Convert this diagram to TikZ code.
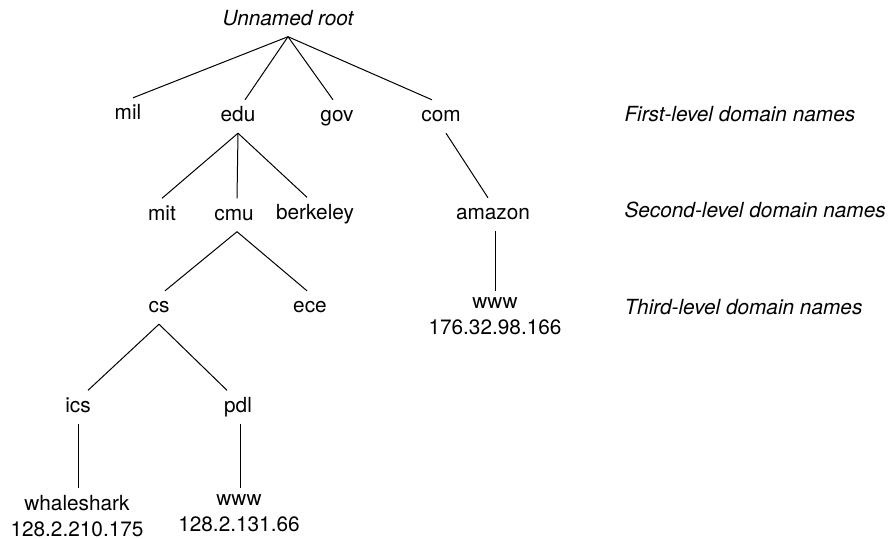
\documentclass[tikz,border=0pt]{standalone}
\usepackage{fontspec}
\setmainfont{TeX Gyre Heros}
\usepackage{tikz}

\begin{document}
\begin{tikzpicture}[x=0.5pt,y=-0.5pt,line width=0.5pt,
    dname/.style={font=\fontsize{10.4}{13}\selectfont,text=black,inner sep=0pt,outer sep=3.75pt,text height=0.72em,text depth=0.2em},
    rootname/.style={dname,font=\fontsize{10.4}{13}\selectfont\itshape},
    levelname/.style={rootname,anchor=west},
    leaf/.style={font=\fontsize{10.4}{13}\selectfont,text=black,inner sep=0pt,outer sep=0pt,align=center,anchor=north,execute at begin node=\vphantom{h}},
    stem/.style={shorten >=3.5pt}]
    \useasboundingbox (0,0) rectangle (888,538);
        \node[rootname] (root) at (288,20) {Unnamed root};
        \node[dname] (mil) at (128,114.5) {mil};
        \node[dname] (edu) at (238,116.5) {edu};
        \node[dname] (gov) at (337,116.5) {gov};
        \node[dname] (com) at (441,116.5) {com};
        \node[dname] (mit) at (162,215) {mit};
        \node[dname] (cmu) at (234,215) {cmu};
        \node[dname] (berkeley) at (315,214) {berkeley};
        \node[dname] (amazon) at (493,214.5) {amazon};
        \node[dname] (cs) at (159,307.5) {cs};
        \node[dname] (ece) at (310,307.5) {ece};
        \node[dname] (ics) at (78,407) {ics};
        \node[dname] (pdl) at (238,407) {pdl};
        \node[leaf] (whale) at (77,495) {whaleshark\\128.2.210.175};
        \node[leaf] (pdlwww) at (239,495) {www\\128.2.131.66};
        \node[leaf] (amzwww) at (495,298) {www\\176.32.98.166};
        \node[levelname] (lvlone) at (617,116.5) {First-level domain names};
        \node[levelname] (lvltwo) at (617,212.5) {Second-level domain names};
        \node[levelname] (lvlthree) at (617,309.5) {Third-level domain names};
        \draw (root.south) -- ([xshift=2.5pt]mil.north);
        \draw (root.south) -- ([xshift=3.5pt]edu.north);
        \draw (root.south) -- ([xshift=-2pt]gov.north);
        \draw (root.south) -- ([xshift=-4.5pt]com.north);
        \draw (edu.south) -- (mit.north);
        \draw (edu.south) -- ([xshift=1.5pt]cmu.north);
        \draw (edu.south) -- ([xshift=-4pt]berkeley.north);
        \draw ([xshift=2.5pt]com.south) -- ([xshift=-2.5pt]amazon.north);
        \draw ([xshift=1.5pt]cmu.south) -- ([xshift=3pt]cs.north);
        \draw ([xshift=1.5pt]cmu.south) -- ([xshift=-1.5pt]ece.north);
        \draw (cs.south) -- ([xshift=5pt]ics.north);
        \draw (cs.south) -- ([xshift=-5.5pt]pdl.north);
        \draw[stem] (ics.south) -- (ics.south |- whale.north);
        \draw[stem] ([xshift=1pt]pdl.south) -- ([xshift=1pt]pdl.south |- pdlwww.north);
        \draw[stem] (amzwww.north |- amazon.south) -- (amzwww.north);
    \end{tikzpicture}
\end{document}
